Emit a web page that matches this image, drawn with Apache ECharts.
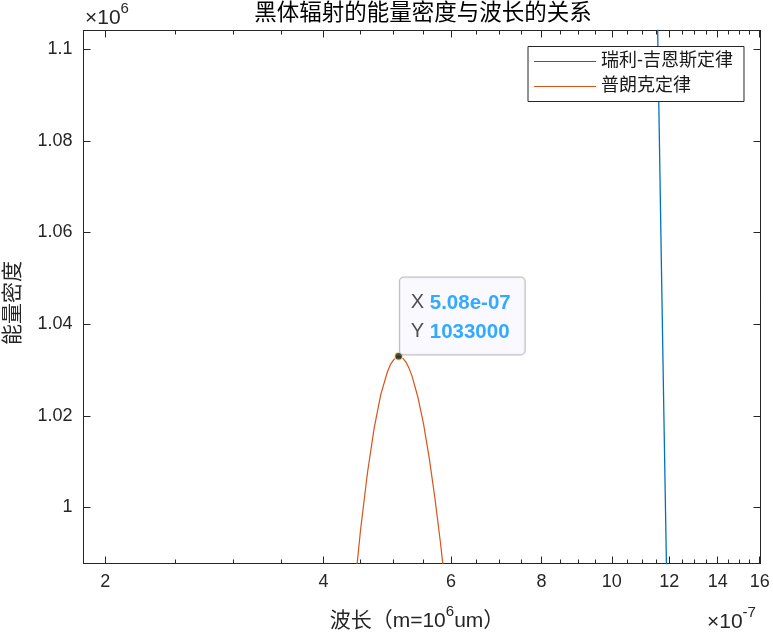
<!DOCTYPE html>
<html><head><meta charset="utf-8">
<script src="https://cdn.jsdelivr.net/npm/echarts@6/dist/echarts.min.js"></script>
<style>html,body{margin:0;padding:0;background:#fff}#c{width:773px;height:636px}</style>
</head><body><div id="c"></div>
<script>
const titleText = '黑体辐射的能量密度与波长的关系';
const seriesNames = ['瑞利-吉恩斯定律', '普朗克定律'];
// wavelength in units of 1e-7 m (axis shows ×10^-7)
const rjX = [10, 11, 11.5, 11.6, 11.7, 11.8, 11.9, 12, 13, 14, 16];
const rjY = [1977900, 1350900, 1130800, 1092400, 1055500, 1020200, 986300, 953800, 692500, 514900, 301800];
const planckX = [4.3, 4.4, 4.5, 4.6, 4.7, 4.8, 4.9, 4.95, 5.0, 5.05, 5.08, 5.1, 5.15, 5.2, 5.25, 5.3, 5.4, 5.5, 5.6, 5.7, 5.8, 5.9, 6.0];
const planckY = [961200, 979500, 994900, 1007400, 1017300, 1024600, 1029500, 1031200, 1032200, 1032850, 1033000, 1032900, 1032500, 1031700, 1030400, 1028700, 1024100, 1018100, 1010700, 1002100, 992500, 982000, 970600];
const tipX = [5.08];
const tipY = [1033000];
const xMajorTicks = [2, 4, 6, 8, 10, 12, 14, 16];
const xMinorTicks = [2.5, 3, 3.5, 4.5, 5, 5.5, 6.5, 7, 7.5, 8.5, 9, 9.5, 10.5, 11, 11.5, 12.5, 13, 13.5, 14.5, 15, 15.5];
const yTicks = [1000000, 1020000, 1040000, 1060000, 1080000, 1100000];
const xRange = [1.8666, 16.04];
const yRange = [987760, 1104070];

const FONT = "'Liberation Sans','Noto Sans CJK SC',sans-serif";
const AX = '#262626';
const cv = document.createElement('canvas').getContext('2d');
function measure(t, s, w) { cv.font = (w || 'normal') + ' ' + s + 'px ' + FONT; return cv.measureText(t).width; }
function supLabel(x, cy, parts, align, color) {
  let w = 0; parts.forEach(p => w += measure(p.t, p.s));
  let sx = align === 'center' ? x - w / 2 : (align === 'right' ? x - w : x);
  const els = [];
  parts.forEach(p => {
    els.push({ type: 'text', x: sx, y: cy + (p.dy || 0), silent: true, z: 10,
      style: { text: p.t, fontSize: p.s, fontFamily: FONT, fill: color || AX, align: 'left', verticalAlign: 'middle' } });
    sx += measure(p.t, p.s);
  });
  return els;
}

const grid = { left: 83.5, top: 30.5, width: 677, height: 533, outerBoundsMode: 'none', containLabel: false };
function xAxisDef(pos, ticks, len, showLine, showLabel) {
  return {
    type: 'log', logBase: 10, min: xRange[0], max: xRange[1], position: pos, gridIndex: 0,
    axisLine: { show: showLine, onZero: false, lineStyle: { color: AX, width: 1 } },
    axisTick: { show: true, inside: true, length: len, customValues: ticks, lineStyle: { color: AX, width: 1 } },
    axisLabel: { show: showLabel, customValues: xMajorTicks, margin: 10, fontSize: 18, fontFamily: FONT, color: AX,
      formatter: v => String(Math.round(v)) },
    splitLine: { show: false }, minorTick: { show: false }, minorSplitLine: { show: false }
  };
}
function yAxisDef(pos, showLabel) {
  return {
    type: 'value', min: yRange[0], max: yRange[1], position: pos, scale: true,
    axisLine: { show: true, onZero: false, lineStyle: { color: AX, width: 1 } },
    axisTick: { show: true, inside: true, length: 7, customValues: yTicks, lineStyle: { color: AX, width: 1 } },
    axisLabel: { show: showLabel, customValues: yTicks, margin: 11, fontSize: 18, fontFamily: FONT, color: AX,
      formatter: v => String(parseFloat((v / 1e6).toFixed(2))) },
    splitLine: { show: false }
  };
}

const rjData = rjX.map((x, i) => [x, rjY[i]]);
const plData = planckX.map((x, i) => [x, planckY[i]]);
const tipData = tipX.map((x, i) => [x, tipY[i]]);
function fmtExp(v) {
  let s = v.toExponential(2);
  return s.replace(/e([+-])(\d)$/, 'e$10$2');
}

const graphics = [].concat(
  [{ type: 'text', x: 423, y: 14, silent: true, style: { text: titleText, fontSize: 22.5, fontFamily: FONT, fill: '#000', align: 'center', verticalAlign: 'middle' } }],
  supLabel(85, 18, [{ t: '×10', s: 21 }, { t: '6', s: 15, dy: -9 }], 'left'),
  supLabel(707, 622, [{ t: '×10', s: 21 }, { t: '-7', s: 15, dy: -9 }], 'left'),
  supLabel(417, 621, [{ t: '波长（m=10', s: 21 }, { t: '6', s: 15, dy: -9 }, { t: 'um）', s: 21 }], 'center'),
  [{ type: 'text', x: 13, y: 303, rotation: Math.PI / 2, silent: true, style: { text: '能量密度', fontSize: 21, fontFamily: FONT, fill: AX, align: 'center', verticalAlign: 'middle' } }]
);

const chart = echarts.init(document.getElementById('c'), null, { renderer: 'canvas' });
chart.setOption({
  animation: false,
  backgroundColor: '#fff',
  grid: grid,
  xAxis: [
    xAxisDef('bottom', xMajorTicks, 7, true, true),
    xAxisDef('bottom', xMinorTicks, 4, false, false),
    xAxisDef('top', xMajorTicks, 7, true, false),
    xAxisDef('top', xMinorTicks, 4, false, false)
  ],
  yAxis: [yAxisDef('left', true), yAxisDef('right', false)],
  legend: {
    orient: 'vertical', left: 528, top: 46.5, padding: [6, 11, 6, 6], itemGap: 7,
    itemWidth: 62, itemHeight: 1.2, icon: 'rect',
    backgroundColor: '#fff', borderColor: AX, borderWidth: 1, borderRadius: 0,
    textStyle: { fontSize: 18, lineHeight: 18, fontFamily: FONT, color: '#1a1a1a' },
    data: seriesNames
  },
  graphic: graphics,
  series: [
    { name: seriesNames[0], type: 'line', data: rjData, symbol: 'none', color: '#0072BD',
      lineStyle: { width: 1.3, color: '#0072BD' }, clip: true, z: 2 },
    { name: seriesNames[1], type: 'line', data: plData, symbol: 'none', color: '#D95319',
      lineStyle: { width: 1.2, color: '#D95319' }, clip: true, z: 2 },
    { name: 'tip', type: 'scatter', data: tipData, symbol: 'circle', symbolSize: 8, z: 5,
      itemStyle: { color: '#1a1a1a', borderColor: '#fff6b0', borderWidth: 1.5 },
      label: {
        show: true, position: [6, -74], align: 'left', verticalAlign: 'top',
        backgroundColor: '#f8f8ff', borderColor: '#aaaaaa', borderWidth: 1, borderRadius: 4,
        padding: [11, 14, 8, 11],
        formatter: p => '{k|X }{v|' + fmtExp(p.value[0] * 1e-7) + '}\n{k|Y }{v|' + p.value[1] + '}',
        rich: {
          k: { fontSize: 20, lineHeight: 29, fontFamily: FONT, color: '#262626' },
          v: { fontSize: 20.5, lineHeight: 29, fontFamily: FONT, color: '#0096ff', fontWeight: 'bold' }
        }
      }
    }
  ]
});
</script></body></html>
